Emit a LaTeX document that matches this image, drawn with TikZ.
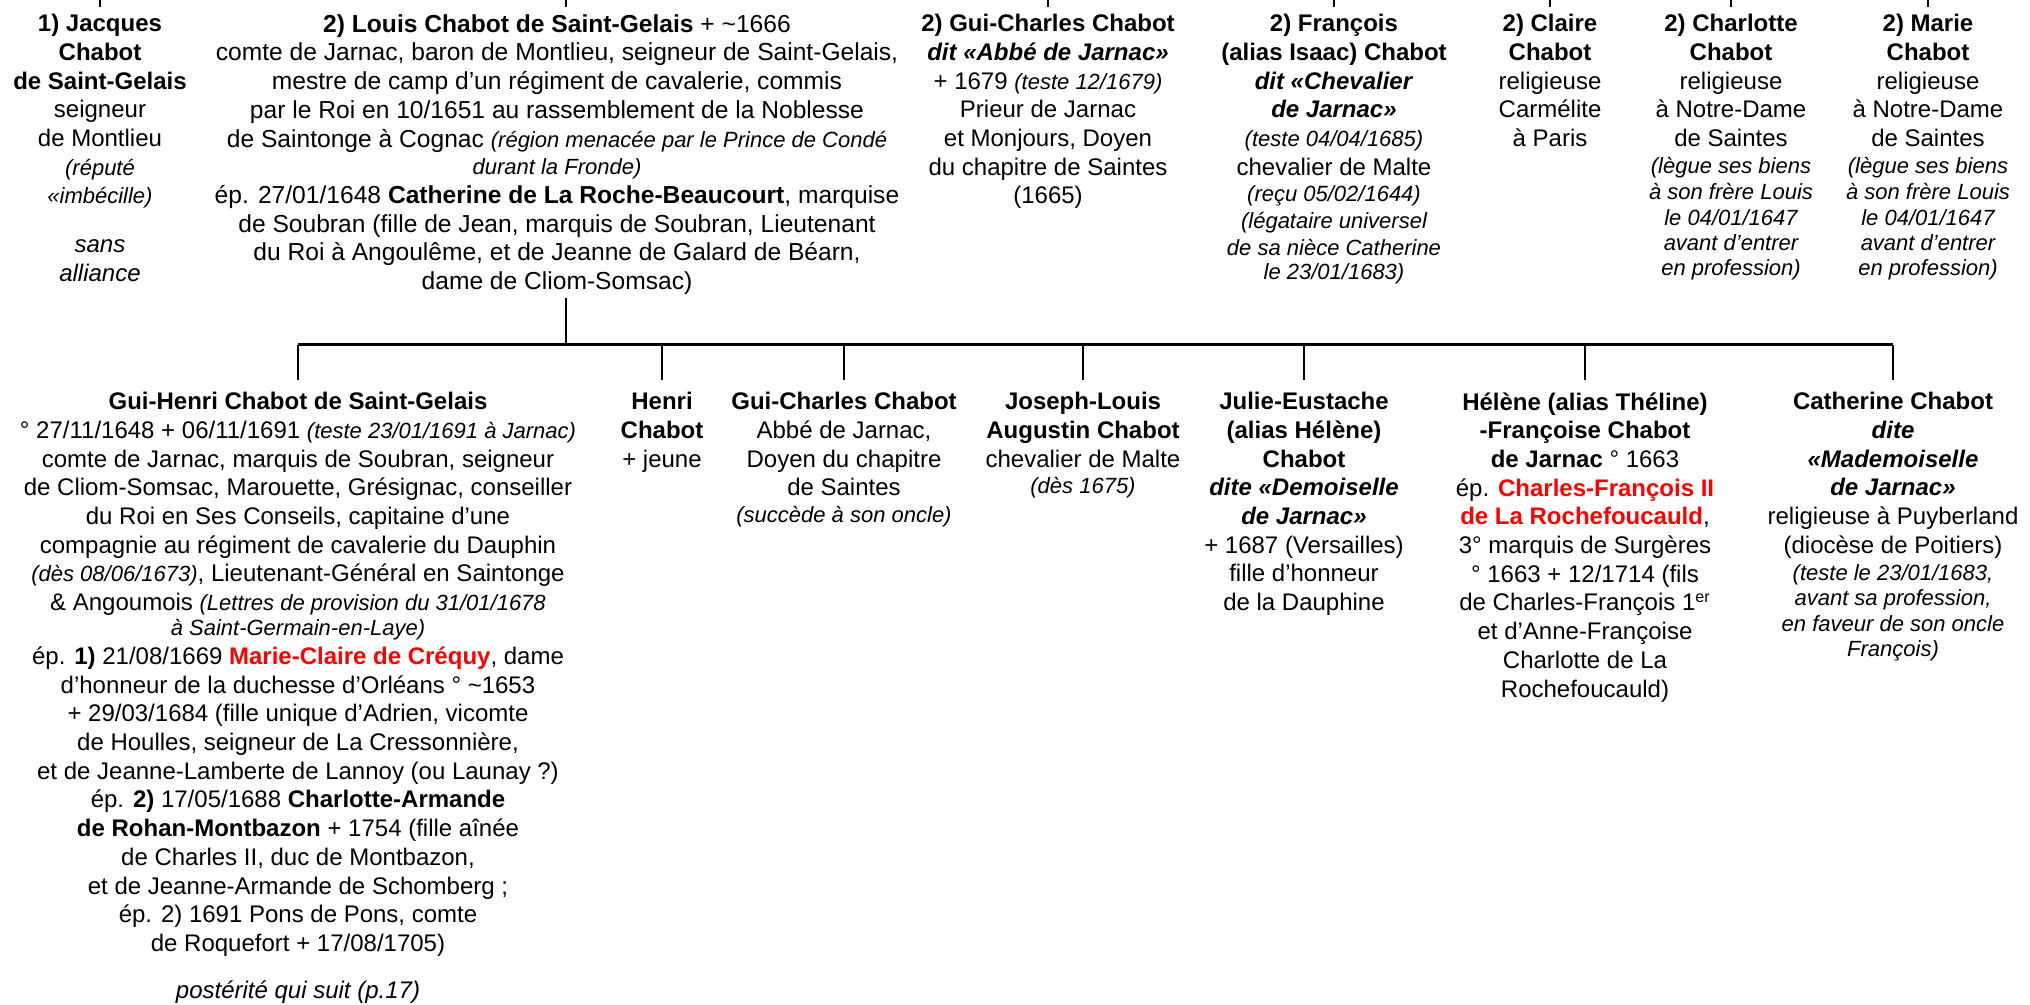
\documentclass[tikz,border=0pt]{standalone}
\usepackage{fontspec}
\setmainfont{Liberation Sans}
\usepackage{xcolor}
\definecolor{redname}{HTML}{FF0000}
\newcommand{\smallit}[1]{{\fontsize{11}{13}\selectfont\itshape #1}}
\tikzset{
	person/.style={
		align=center,
		anchor=north,
		inner sep=0pt,
		text=black,
		font=\fontsize{12}{14.35}\selectfont
	},
	branch/.style={
		draw=black,
		line width=1pt
	},
	spine/.style={
		draw=black,
		line width=1.5pt
	},
}

\begin{document}
\begin{tikzpicture}[x=0.5pt,y=-0.5pt]

\fill[white] (0,0) rectangle (2030,1005);
\useasboundingbox (0,0) rectangle (2030,1005);

% Top row
\node[person] (Jacques) at (100,14) {
	\textbf{1) Jacques}\\
	\textbf{Chabot}\\
	\textbf{de Saint-Gelais}\\
	seigneur\\
	de Montlieu\\
	\smallit{(réputé}\\
	\smallit{«imbécille)}\\[10pt]
	\textit{sans}\\
	\textit{alliance}
};

\node[person,font=\fontsize{12.3}{14.35}\selectfont] (Louis) at (557,14) {
	\textbf{2) Louis Chabot de Saint-Gelais} + \textasciitilde1666\\
	comte de Jarnac, baron de Montlieu, seigneur de Saint-Gelais,\\
	mestre de camp d’un régiment de cavalerie, commis\\
	par le Roi en 10/1651 au rassemblement de la Noblesse\\
	de Saintonge à Cognac \smallit{(région menacée par le Prince de Condé}\\[-0.5pt]
	\smallit{durant la Fronde)}\\
	ép. 27/01/1648 \textbf{Catherine de La Roche-Beaucourt}, marquise\\
	de Soubran (fille de Jean, marquis de Soubran, Lieutenant\\
	du Roi à Angoulême, et de Jeanne de Galard de Béarn,\\
	dame de Cliom-Somsac)
};

\node[person] (GuiCharles) at (1048,14) {
	\textbf{2) Gui-Charles Chabot}\\
	\textbf{\textit{dit «Abbé de Jarnac»}}\\
	+ 1679 \smallit{(teste 12/1679)}\\
	Prieur de Jarnac\\
	et Monjours, Doyen\\
	du chapitre de Saintes\\
	(1665)
};

\node[person] (Francois) at (1334,14) {
	\textbf{2) François}\\
	\textbf{(alias Isaac) Chabot}\\
	\textbf{\textit{dit «Chevalier}}\\
	\textbf{\textit{de Jarnac»}}\\
	\smallit{(teste 04/04/1685)}\\
	chevalier de Malte\\[-1pt]
	\smallit{(reçu 05/02/1644)}\\[-1pt]
	\smallit{(légataire universel}\\[-1pt]
	\smallit{de sa nièce Catherine}\\[-2.5pt]
	\smallit{le 23/01/1683)}
};

\node[person] (Claire) at (1550,14) {
	\textbf{2) Claire}\\
	\textbf{Chabot}\\
	religieuse\\
	Carmélite\\
	à Paris
};

\node[person] (Charlotte) at (1731,14) {
	\textbf{2) Charlotte}\\
	\textbf{Chabot}\\
	religieuse\\
	à Notre-Dame\\
	de Saintes\\[-1pt]
	\smallit{(lègue ses biens}\\[-1pt]
	\smallit{à son frère Louis}\\[-1.8pt]
	\smallit{le 04/01/1647}\\[-1.8pt]
	\smallit{avant d’entrer}\\[-1.8pt]
	\smallit{en profession)}
};

\node[person] (Marie) at (1928,14) {
	\textbf{2) Marie}\\
	\textbf{Chabot}\\
	religieuse\\
	à Notre-Dame\\
	de Saintes\\[-1pt]
	\smallit{(lègue ses biens}\\[-1pt]
	\smallit{à son frère Louis}\\[-1.8pt]
	\smallit{le 04/01/1647}\\[-1.8pt]
	\smallit{avant d’entrer}\\[-1.8pt]
	\smallit{en profession)}
};

% Bottom row
\node[person] (GuiHenri) at (298,392) {
	\textbf{Gui-Henri Chabot de Saint-Gelais}\\
	° 27/11/1648 + 06/11/1691 \smallit{(teste 23/01/1691 à Jarnac)}\\
	comte de Jarnac, marquis de Soubran, seigneur\\
	de Cliom-Somsac, Marouette, Grésignac, conseiller\\
	du Roi en Ses Conseils, capitaine d’une\\
	compagnie au régiment de cavalerie du Dauphin\\
	\smallit{(dès 08/06/1673)}, Lieutenant-Général en Saintonge\\
	\& Angoumois \smallit{(Lettres de provision du 31/01/1678}\\[-1.8pt]
	\smallit{à Saint-Germain-en-Laye)}\\
	ép. \textbf{1)} 21/08/1669 \textcolor{redname}{\textbf{Marie-Claire de Créquy}}, dame\\
	d’honneur de la duchesse d’Orléans ° \textasciitilde1653\\
	+ 29/03/1684 (fille unique d’Adrien, vicomte\\
	de Houlles, seigneur de La Cressonnière,\\
	et de Jeanne-Lamberte de Lannoy (ou Launay ?)\\
	ép. \textbf{2)} 17/05/1688 \textbf{Charlotte-Armande}\\
	\textbf{de Rohan-Montbazon} + 1754 (fille aînée\\
	de Charles II, duc de Montbazon,\\
	et de Jeanne-Armande de Schomberg ;\\
	ép. 2) 1691 Pons de Pons, comte\\
	de Roquefort + 17/08/1705)\\[9pt]
	\textit{postérité qui suit (p.17)}
};

\node[person] (Henri) at (662,392) {
	\textbf{Henri}\\
	\textbf{Chabot}\\
	+ jeune
};

\node[person] (GuiCharlesJr) at (844,392) {
	\textbf{Gui-Charles Chabot}\\
	Abbé de Jarnac,\\
	Doyen du chapitre\\
	de Saintes\\[-1pt]
	\smallit{(succède à son oncle)}
};

\node[person] (JosephLouis) at (1083,392) {
	\textbf{Joseph-Louis}\\
	\textbf{Augustin Chabot}\\
	chevalier de Malte\\[-1pt]
	\smallit{(dès 1675)}
};

\node[person] (Julie) at (1304,392) {
	\textbf{Julie-Eustache}\\
	\textbf{(alias Hélène)}\\
	\textbf{Chabot}\\
	\textbf{\textit{dite «Demoiselle}}\\
	\textbf{\textit{de Jarnac»}}\\
	+ 1687 (Versailles)\\
	fille d’honneur\\
	de la Dauphine
};

\node[person] (Helene) at (1585,392) {
	\textbf{Hélène (alias Théline)}\\
	\textbf{-Françoise Chabot}\\
	\textbf{de Jarnac} ° 1663\\
	ép. \textcolor{redname}{\textbf{Charles-François II}}\\
	\textcolor{redname}{\textbf{de La Rochefoucauld}},\\
	3° marquis de Surgères\\
	° 1663 + 12/1714 (fils\\
	de Charles-François 1\textsuperscript{er}\\
	et d’Anne-Françoise\\
	Charlotte de La\\
	Rochefoucauld)
};

\node[person] (Catherine) at (1893,392) {
	\textbf{Catherine Chabot}\\
	\textbf{\textit{dite}}\\
	\textbf{\textit{«Mademoiselle}}\\
	\textbf{\textit{de Jarnac»}}\\
	religieuse à Puyberland\\
	(diocèse de Poitiers)\\[-0.8pt]
	\smallit{(teste le 23/01/1683,}\\[-1.8pt]
	\smallit{avant sa profession,}\\[-1.4pt]
	\smallit{en faveur de son oncle}\\[-1.8pt]
	\smallit{François)}
};

% Links
\coordinate (Top) at (0,0);
\coordinate (Trunk) at (566,298);
\coordinate (Fork) at (566,345);

\draw[branch] (Top -| Trunk) -- ([yshift=3.5pt]Louis.north -| Trunk);
\foreach \n in {Jacques,GuiCharles,Francois,Claire,Charlotte,Marie}
	\draw[branch] (Top -| \n.north) -- ([yshift=3.5pt]\n.north);

\draw[branch] (Trunk) -- (Fork);
\draw[spine] (Fork -| GuiHenri.north) -- (Fork -| Catherine.north);
\foreach \n in {GuiHenri,Henri,GuiCharlesJr,JosephLouis,Julie,Helene,Catherine}
	\draw[branch] (Fork -| \n.north) -- ([yshift=6pt]\n.north);

\end{tikzpicture}
\end{document}
